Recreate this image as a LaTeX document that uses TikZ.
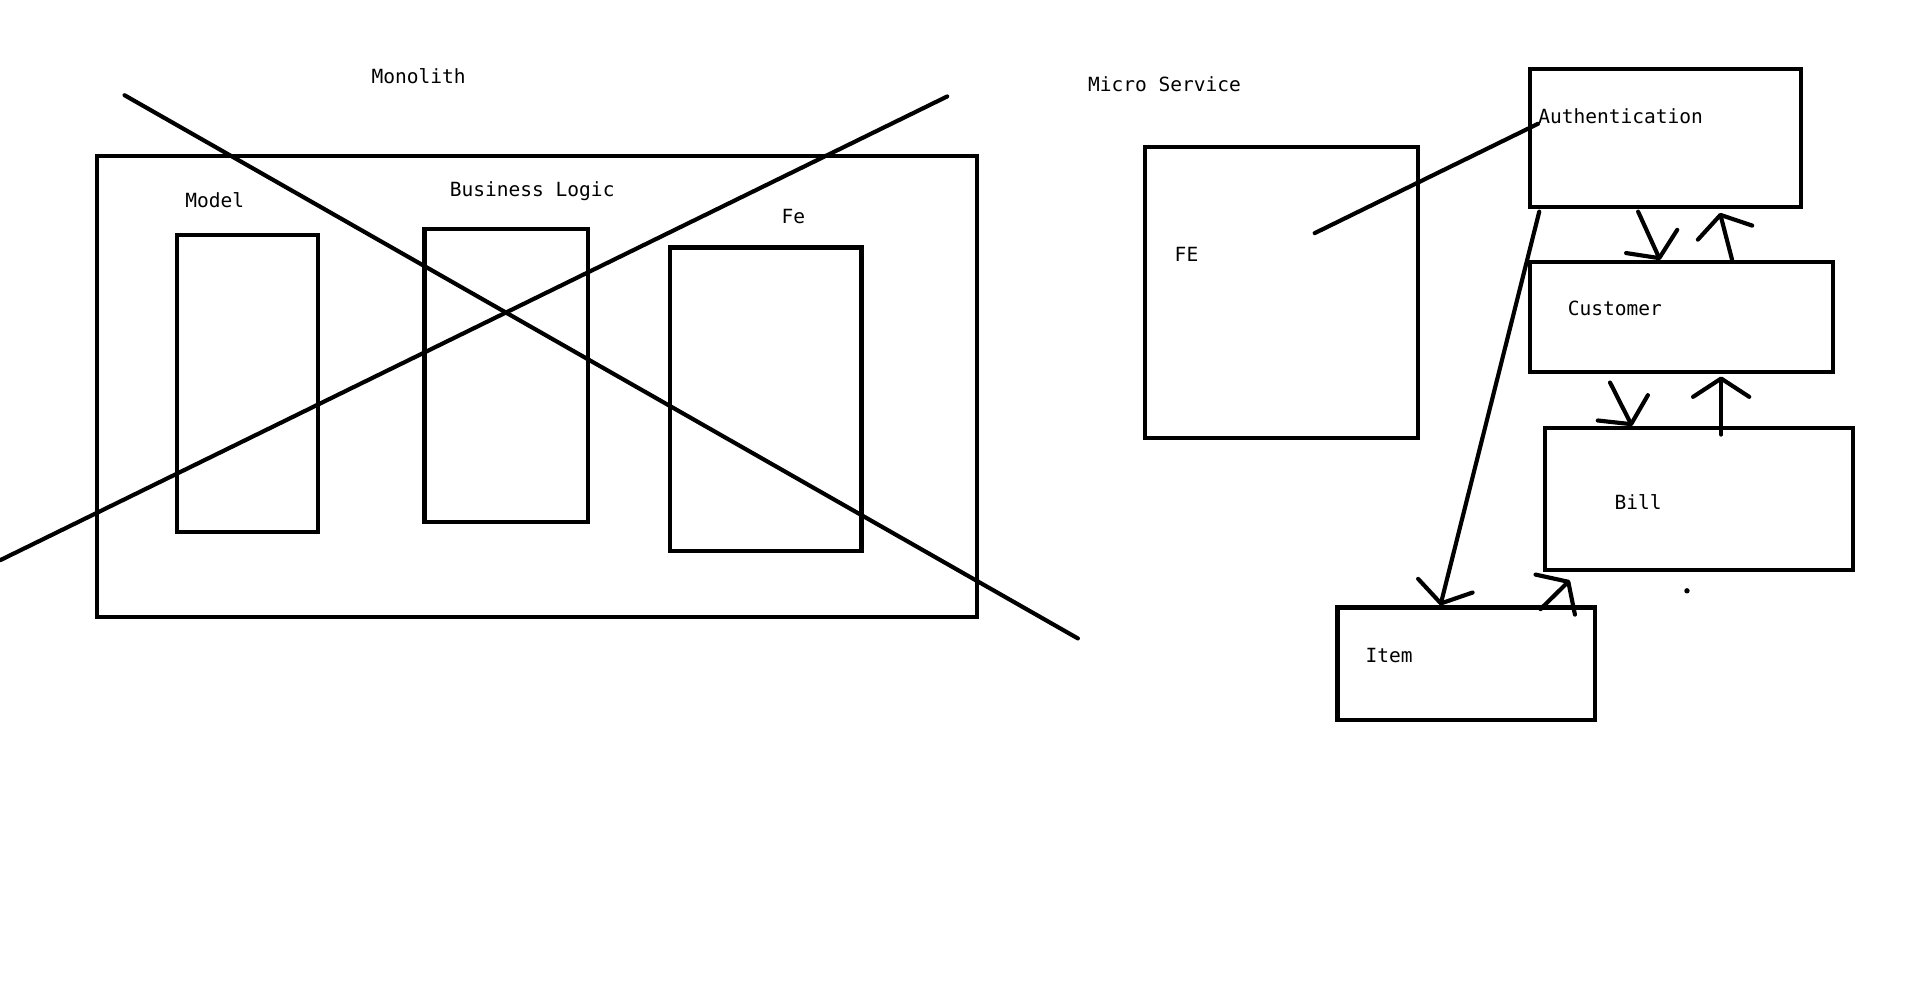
\documentclass[tikz,border=0pt]{standalone}
\usepackage{fontspec}
\setmonofont{DejaVu Sans Mono}
\usetikzlibrary{arrows.meta}
\tikzset{
  box/.style={draw=black, line width=3.4pt, anchor=north west, inner sep=0pt},
  lbl/.style={font=\ttfamily\fontsize{16}{18}\selectfont, inner sep=0pt},
  cross/.style={line width=3.4pt, line cap=round},
  link/.style={line width=3.4pt, line cap=round, -{Straight Barb[length=15pt,width=46pt,round]}},
}
\begin{document}
\begin{tikzpicture}[x=1pt,y=-1pt]
\useasboundingbox (0,0) rectangle (1568,817);
% monolith
\node [lbl] (monolbl) at (343,62) {Monolith};
\node [box, minimum width=721pt, minimum height=378pt] (mono) at (78,126) {};
\node [box, minimum width=116pt, minimum height=243pt] (model) at (143,191) {};
\node [box, minimum width=134pt, minimum height=240pt] (logic) at (346,186) {};
\node [box, minimum width=157pt, minimum height=249pt] (fe) at (547,201) {};
\node [lbl] (modellbl) at (176,164) {Model};
\node [lbl] (logiclbl) at (436,157) {Business Logic};
\node [lbl] (felbl) at (650,177) {Fe};
\draw [cross] (102,78) -- (883,523);
\draw [cross] (0,459) -- (776,79);
% micro service
\node [lbl] (microlbl) at (954,69) {Micro Service};
\node [box, minimum width=224pt, minimum height=238pt] (front) at (936,119) {};
\node [box, minimum width=222pt, minimum height=113pt] (auth) at (1252,55) {};
\node [box, minimum width=248pt, minimum height=90pt] (cust) at (1252,213) {};
\node [box, minimum width=252pt, minimum height=116pt] (bill) at (1264,349) {};
\node [box, minimum width=211pt, minimum height=92pt] (item) at (1094,496) {};
\node [lbl] (frontlbl) at (972,208) {FE};
\node [lbl, anchor=west] (authlbl) at (1260,95) {Authentication};
\node [lbl] (custlbl) at (1323,253) {Customer};
\node [lbl] (billlbl) at (1342,411) {Bill};
\node [lbl] (itemlbl) at (1138,537) {Item};
\coordinate (frontin) at (1077,191);
\draw [cross] (frontin) -- (authlbl.south west);
\draw [link] ([xshift=90pt,yshift=-2pt]auth.south west) -- ([xshift=108pt]cust.north west);
\draw [link] ([xshift=167pt]cust.north west) -- ([xshift=157pt,yshift=-3pt]auth.south west);
\draw [link] ([xshift=67pt,yshift=-7pt]cust.south west) -- ([xshift=73pt]bill.north west);
\draw [link] ([xshift=146pt,yshift=-7pt]bill.north west) -- ([xshift=158pt,yshift=-2pt]cust.south west);
\draw [link] ([xshift=9pt,yshift=-2pt]auth.south west) -- ([xshift=86pt]item.north west);
\draw [link] ([xshift=168pt,yshift=-3pt]item.north west) -- ([xshift=22pt,yshift=-7pt]bill.south west);
\fill (1382,484) circle (2.2pt);
\end{tikzpicture}
\end{document}
